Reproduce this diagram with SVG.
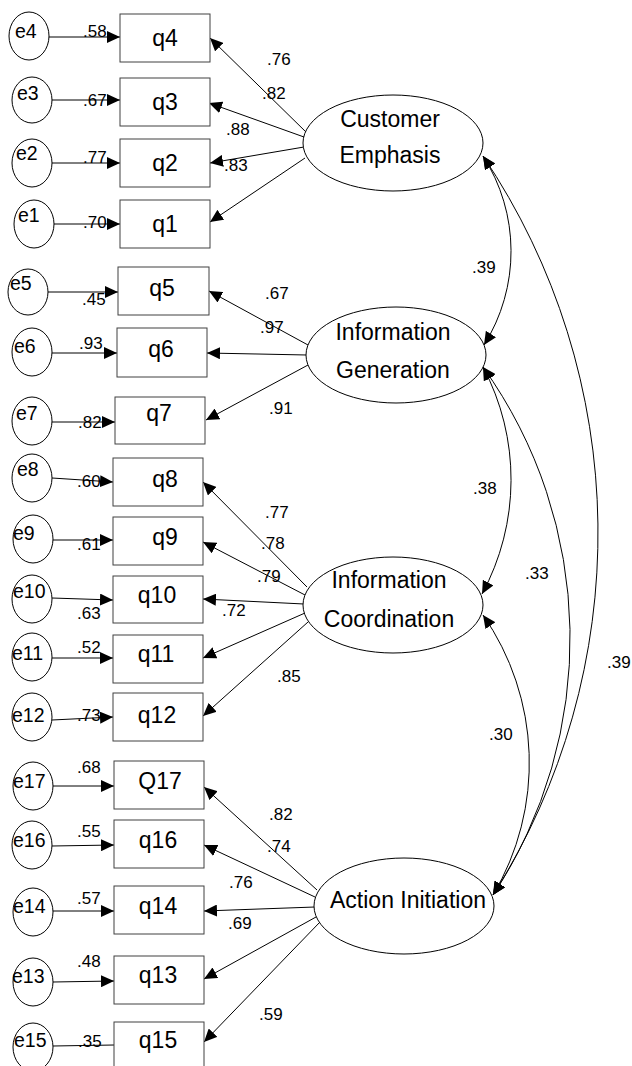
<svg xmlns="http://www.w3.org/2000/svg" width="632" height="1066" viewBox="0 0 632 1066">
<defs>
<marker id="ah" markerUnits="userSpaceOnUse" viewBox="0 0 13 12" refX="13" refY="6" markerWidth="13" markerHeight="12" orient="auto-start-reverse">
<path d="M0,0 L13,6 L0,12 z" fill="#000"/>
</marker>
<style>
.box{fill:#fff;stroke:#404040;stroke-width:1}
.el{fill:#fff;stroke:#000;stroke-width:1}
.ln{stroke:#000;stroke-width:1;fill:none}
.ar{marker-end:url(#ah)}
.cv{stroke:#000;stroke-width:1;fill:none;marker-start:url(#ah);marker-end:url(#ah)}
text{font-family:"Liberation Sans",Arial,sans-serif;fill:#000}
.nt{font-size:23px;text-anchor:middle}
.et{font-size:19.5px}
.ct{font-size:17px}
</style>
</defs>
<rect width="632" height="1066" fill="#fff"/>

<g id="connectors">
<line class="ln ar" x1="49" y1="37" x2="120" y2="37"/>
<line class="ln ar" x1="52" y1="100" x2="120" y2="100"/>
<line class="ln ar" x1="52" y1="163" x2="120" y2="163"/>
<line class="ln ar" x1="54" y1="224" x2="120" y2="224"/>
<line class="ln ar" x1="48" y1="292" x2="118" y2="292"/>
<line class="ln ar" x1="52" y1="353" x2="117" y2="353"/>
<line class="ln ar" x1="52" y1="422" x2="115" y2="422"/>
<line class="ln ar" x1="52" y1="478" x2="113" y2="482"/>
<line class="ln ar" x1="53" y1="540" x2="113" y2="540"/>
<line class="ln ar" x1="52" y1="598" x2="113" y2="600"/>
<line class="ln ar" x1="52" y1="658" x2="113" y2="658"/>
<line class="ln ar" x1="52" y1="720" x2="113" y2="717"/>
<line class="ln ar" x1="53" y1="786" x2="114" y2="786"/>
<line class="ln ar" x1="52" y1="846" x2="114" y2="845"/>
<line class="ln ar" x1="53" y1="911" x2="114" y2="911"/>
<line class="ln ar" x1="53" y1="982" x2="114" y2="981"/>
<line class="ln" x1="53" y1="1046" x2="114" y2="1045"/>

<line class="ln ar" x1="307" y1="133" x2="210" y2="38"/>
<line class="ln ar" x1="304" y1="137" x2="209" y2="103"/>
<line class="ln ar" x1="304" y1="147" x2="210" y2="163"/>
<line class="ln ar" x1="305" y1="158" x2="210" y2="222"/>

<line class="ln ar" x1="308" y1="345" x2="209" y2="291"/>
<line class="ln ar" x1="307" y1="355" x2="207" y2="353"/>
<line class="ln ar" x1="308" y1="365" x2="206" y2="420"/>

<line class="ln ar" x1="307" y1="587" x2="203" y2="482"/>
<line class="ln ar" x1="305" y1="595" x2="203" y2="542"/>
<line class="ln ar" x1="304" y1="604" x2="203" y2="599"/>
<line class="ln ar" x1="305" y1="613" x2="203" y2="658"/>
<line class="ln ar" x1="308" y1="622" x2="203" y2="716"/>

<line class="ln ar" x1="317" y1="890" x2="204" y2="787"/>
<line class="ln ar" x1="315" y1="897" x2="204" y2="845"/>
<line class="ln ar" x1="315" y1="907" x2="204" y2="911"/>
<line class="ln ar" x1="316" y1="917" x2="204" y2="979"/>
<line class="ln ar" x1="320" y1="922" x2="204" y2="1042"/>

<path class="cv" d="M483,156 A176,176 0 0 1 484,345"/>
<path class="cv" d="M483,367 A240,240 0 0 1 482,594"/>
<path class="cv" d="M483,615 A259,259 0 0 1 493,895"/>
<path class="cv" d="M483,367 A466,466 0 0 1 493,895"/>
<path class="cv" d="M483,156 A676,676 0 0 1 493,895"/>

<text class="ct" x="83" y="37">.58</text>
<text class="ct" x="83" y="106">.67</text>
<text class="ct" x="83" y="163">.77</text>
<text class="ct" x="83" y="228">.70</text>
<text class="ct" x="267" y="65">.76</text>
<text class="ct" x="262" y="99">.82</text>
<text class="ct" x="226" y="135">.88</text>
<text class="ct" x="224" y="171">.83</text>
<text class="ct" x="82" y="305">.45</text>
<text class="ct" x="79" y="349">.93</text>
<text class="ct" x="78" y="428">.82</text>
<text class="ct" x="265" y="299">.67</text>
<text class="ct" x="260" y="333">.97</text>
<text class="ct" x="269" y="414">.91</text>
<text class="ct" x="77" y="487">.60</text>
<text class="ct" x="77" y="550">.61</text>
<text class="ct" x="77" y="619">.63</text>
<text class="ct" x="77" y="653">.52</text>
<text class="ct" x="77" y="721">.73</text>
<text class="ct" x="265" y="518">.77</text>
<text class="ct" x="261" y="549">.78</text>
<text class="ct" x="257" y="582">.79</text>
<text class="ct" x="222" y="616">.72</text>
<text class="ct" x="277" y="682">.85</text>
<text class="ct" x="77" y="773">.68</text>
<text class="ct" x="77" y="837">.55</text>
<text class="ct" x="77" y="904">.57</text>
<text class="ct" x="77" y="967">.48</text>
<text class="ct" x="78" y="1047">.35</text>
<text class="ct" x="269" y="820">.82</text>
<text class="ct" x="267" y="852">.74</text>
<text class="ct" x="229" y="888">.76</text>
<text class="ct" x="228" y="929">.69</text>
<text class="ct" x="259" y="1020">.59</text>
<text class="ct" x="472" y="273">.39</text>
<text class="ct" x="473" y="494">.38</text>
<text class="ct" x="525" y="579">.33</text>
<text class="ct" x="489" y="740">.30</text>
<text class="ct" x="607" y="668">.39</text>
</g>

<g id="e4"><ellipse class="el" cx="29" cy="36" rx="20" ry="24"/><text class="et" x="15" y="38">e4</text></g>
<g id="e3"><ellipse class="el" cx="32" cy="100" rx="20" ry="23"/><text class="et" x="17" y="100">e3</text></g>
<g id="e2"><ellipse class="el" cx="32" cy="163" rx="20" ry="24"/><text class="et" x="16" y="160">e2</text></g>
<g id="e1"><ellipse class="el" cx="34" cy="224" rx="20" ry="24"/><text class="et" x="18" y="222">e1</text></g>
<g id="e5"><ellipse class="el" cx="28" cy="292" rx="20" ry="23"/><text class="et" x="10" y="290">e5</text></g>
<g id="e6"><ellipse class="el" cx="32" cy="352" rx="20" ry="24"/><text class="et" x="14" y="353">e6</text></g>
<g id="e7"><ellipse class="el" cx="32" cy="421" rx="20" ry="24"/><text class="et" x="16" y="420">e7</text></g>
<g id="e8"><ellipse class="el" cx="32" cy="478" rx="20" ry="24"/><text class="et" x="17" y="476">e8</text></g>
<g id="e9"><ellipse class="el" cx="33" cy="539" rx="20" ry="24"/><text class="et" x="13" y="540">e9</text></g>
<g id="e10"><ellipse class="el" cx="32" cy="599" rx="20" ry="24"/><text class="et" x="13" y="598">e10</text></g>
<g id="e11"><ellipse class="el" cx="32" cy="657" rx="20" ry="24"/><text class="et" x="12" y="660">e11</text></g>
<g id="e12"><ellipse class="el" cx="32" cy="717" rx="20" ry="24"/><text class="et" x="12" y="722">e12</text></g>
<g id="e17"><ellipse class="el" cx="33" cy="786" rx="20" ry="24"/><text class="et" x="13" y="788">e17</text></g>
<g id="e16"><ellipse class="el" cx="32" cy="845" rx="20" ry="24"/><text class="et" x="13" y="847">e16</text></g>
<g id="e14"><ellipse class="el" cx="33" cy="912" rx="20" ry="24"/><text class="et" x="13" y="913">e14</text></g>
<g id="e13"><ellipse class="el" cx="33" cy="982" rx="20" ry="24"/><text class="et" x="12" y="983">e13</text></g>
<g id="e15"><ellipse class="el" cx="33" cy="1047" rx="20" ry="24"/><text class="et" x="14" y="1047">e15</text></g>

<g id="q4"><rect class="box" x="120" y="14" width="90" height="48"/><text class="nt" x="165" y="46">q4</text></g>
<g id="q3"><rect class="box" x="120" y="78" width="90" height="48"/><text class="nt" x="165" y="110">q3</text></g>
<g id="q2"><rect class="box" x="120" y="139" width="90" height="48"/><text class="nt" x="165" y="171">q2</text></g>
<g id="q1"><rect class="box" x="120" y="200" width="90" height="48"/><text class="nt" x="165" y="232">q1</text></g>
<g id="q5"><rect class="box" x="118" y="267" width="91" height="48"/><text class="nt" x="162" y="296">q5</text></g>
<g id="q6"><rect class="box" x="117" y="328" width="90" height="49"/><text class="nt" x="161" y="357">q6</text></g>
<g id="q7"><rect class="box" x="115" y="397" width="90" height="47"/><text class="nt" x="159" y="421">q7</text></g>
<g id="q8"><rect class="box" x="113" y="458" width="90" height="48"/><text class="nt" x="165" y="487">q8</text></g>
<g id="q9"><rect class="box" x="113" y="517" width="90" height="48"/><text class="nt" x="165" y="545">q9</text></g>
<g id="q10"><rect class="box" x="113" y="576" width="90" height="47"/><text class="nt" x="157" y="603">q10</text></g>
<g id="q11"><rect class="box" x="113" y="635" width="90" height="48"/><text class="nt" x="156" y="662">q11</text></g>
<g id="q12"><rect class="box" x="113" y="693" width="90" height="48"/><text class="nt" x="157" y="723">q12</text></g>
<g id="Q17"><rect class="box" x="114" y="761" width="90" height="48"/><text class="nt" x="160" y="789">Q17</text></g>
<g id="q16"><rect class="box" x="114" y="820" width="90" height="48"/><text class="nt" x="158" y="848">q16</text></g>
<g id="q14"><rect class="box" x="114" y="886" width="90" height="48"/><text class="nt" x="158" y="914">q14</text></g>
<g id="q13"><rect class="box" x="114" y="956" width="90" height="48"/><text class="nt" x="158" y="983">q13</text></g>
<g id="q15"><rect class="box" x="114" y="1022" width="90" height="48"/><text class="nt" x="158" y="1048">q15</text></g>

<g id="customer-emphasis"><ellipse class="el" cx="393" cy="143" rx="90" ry="48"/><text class="nt" x="390" y="127">Customer</text><text class="nt" x="390" y="163">Emphasis</text></g>
<g id="information-generation"><ellipse class="el" cx="396" cy="355" rx="90" ry="48"/><text class="nt" x="393" y="340">Information</text><text class="nt" x="393" y="378">Generation</text></g>
<g id="information-coordination"><ellipse class="el" cx="393" cy="605" rx="90" ry="48"/><text class="nt" x="389" y="588">Information</text><text class="nt" x="389" y="627">Coordination</text></g>
<g id="action-initiation"><ellipse class="el" cx="404" cy="906" rx="90" ry="48"/><text class="nt" x="408" y="908">Action Initiation</text></g>
</svg>
